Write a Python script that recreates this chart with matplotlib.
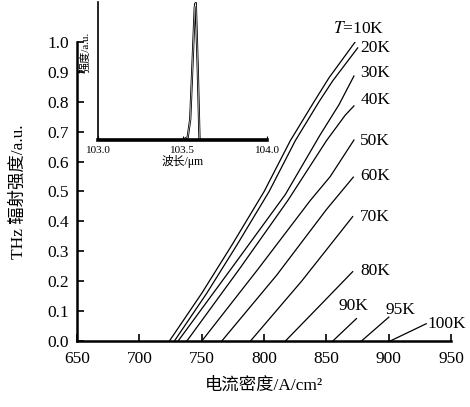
import numpy as np
import matplotlib.pyplot as plt

plt.rcParams['font.family'] = ['Liberation Serif', 'Noto Sans CJK SC']
plt.rcParams['mathtext.fontset'] = 'stix'
plt.rcParams['axes.unicode_minus'] = False

# main panel: THz intensity vs current density for each temperature
temps = ['10K', '20K', '30K', '40K', '50K', '60K', '70K', '80K', '90K', '95K', '100K']
current = [
    [724, 750, 774, 800, 821, 840, 852, 873],
    [728, 754, 778, 804, 825, 844, 855, 875],
    [731, 775, 817, 845, 860, 872],
    [738, 780, 819, 850, 865, 872],
    [750, 795, 837, 853, 872],
    [766, 810, 850, 871.5],
    [789, 830, 871],
    [817, 845, 871],
    [855, 874],
    [878, 900],
    [901, 930],
]
intensity = [
    [0.0, 0.16, 0.32, 0.50, 0.67, 0.80, 0.88, 1.0],
    [0.0, 0.16, 0.32, 0.50, 0.67, 0.80, 0.87, 0.98],
    [0.0, 0.25, 0.49, 0.69, 0.79, 0.886],
    [0.0, 0.24, 0.47, 0.67, 0.755, 0.786],
    [0.0, 0.24, 0.47, 0.55, 0.672],
    [0.0, 0.22, 0.44, 0.548],
    [0.0, 0.20, 0.416],
    [0.0, 0.12, 0.232],
    [0.0, 0.075],
    [0.0, 0.08],
    [0.0, 0.058],
]
label_text = ['$T$=10K', '20K', '30K', '40K', '50K', '60K', '70K', '80K', '90K', '95K', '100K']
label_x = [855, 877, 877, 877, 877, 877, 877, 877, 860, 897, 931]
label_y = [1.043, 0.98, 0.896, 0.806, 0.669, 0.552, 0.415, 0.234, 0.117, 0.104, 0.057]

# inset: emission spectrum
wavelength = [103.0, 103.50, 103.53, 103.545, 103.56, 103.572, 103.578, 103.59, 103.60, 104.0]
spectrum = [0.0, 0.0, 0.02, 0.15, 0.6, 0.97, 1.0, 0.5, 0.0, 0.0]

fig = plt.figure(figsize=(4.7, 4.07), dpi=100)
ax = fig.add_axes([0.164, 0.162, 0.796, 0.735])

for xs, ys in zip(current, intensity):
    ax.plot(xs, ys, color='black', lw=0.9)

for t, x, y in zip(label_text, label_x, label_y):
    ax.text(x, y, t, fontsize=12.5, ha='left', va='center', clip_on=False)

ax.set_xlim(650, 950)
ax.set_ylim(0, 1.0)
ax.set_xticks(np.arange(650, 951, 50))
ax.set_yticks(np.arange(0, 1.01, 0.1))
ax.set_yticklabels([f'{v:.1f}' for v in np.arange(0, 1.01, 0.1)])
ax.tick_params(direction='in', length=5, width=1.2, labelsize=12.5)
ax.tick_params(axis='x', pad=7)
ax.tick_params(axis='y', pad=6)
for s in ['top', 'right']:
    ax.spines[s].set_visible(False)
for s in ['left', 'bottom']:
    ax.spines[s].set_linewidth(1.8)

ax.set_xlabel('电流密度/A/cm²', fontsize=12.5, labelpad=8)
ax.set_ylabel('THz 辐射强度/a.u.', fontsize=12.5, labelpad=15)

# inset
axi = fig.add_axes([0.2085, 0.656, 0.36, 0.34])
axi.plot(wavelength, spectrum, color='black', lw=1.6)
axi.plot(wavelength, spectrum, color='white', lw=0.4)
axi.set_xlim(103.0, 104.0)
axi.set_ylim(0, 1.01)
axi.set_xticks([103.0, 103.5, 104.0])
axi.set_xticklabels(['103.0', '103.5', '104.0'])
axi.set_yticks([])
axi.tick_params(axis='x', direction='in', length=3, labelsize=8, pad=4)
axi.patch.set_alpha(0)
for s in ['top', 'right']:
    axi.spines[s].set_visible(False)
axi.spines['left'].set_linewidth(1.2)
axi.spines['bottom'].set_linewidth(2.6)
axi.axhline(0, color='white', lw=0.6)
axi.set_xlabel('波长/μm', fontsize=8.5, labelpad=0)
axi.set_ylabel('强度/a.u.', fontsize=8, labelpad=1)
axi.yaxis.set_label_coords(-0.045, 0.63)

fig.savefig('out.png', dpi=100)
